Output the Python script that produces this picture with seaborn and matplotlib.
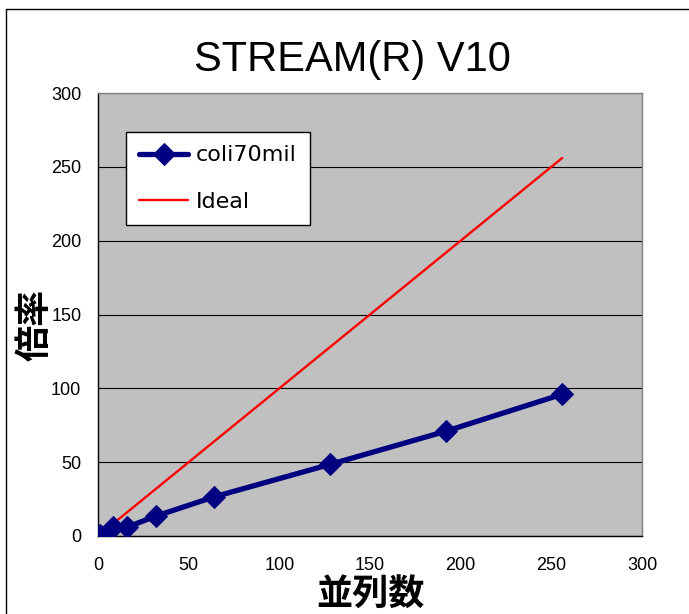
import numpy as np
import pandas as pd
import seaborn as sns
import matplotlib.pyplot as plt
from matplotlib.lines import Line2D

# data
threads = [1, 8, 16, 32, 64, 128, 192, 256]
speedup = [1, 6, 6, 13.5, 26.5, 48.5, 71, 96]
ideal = [1, 8, 16, 32, 64, 128, 192, 256]
ticks = [0, 50, 100, 150, 200, 250, 300]

df = pd.DataFrame({'x': threads, 'coli70mil': speedup, 'Ideal': ideal})

sns.set_theme(style='white')
plt.rcParams['font.family'] = ['Liberation Sans', 'DejaVu Sans']
for k in ['text.color', 'axes.labelcolor', 'xtick.color', 'ytick.color']:
    plt.rcParams[k] = 'black'

W, H = 689, 614
fig = plt.figure(figsize=(W / 100, H / 100), dpi=100)
ax = fig.add_axes([98 / W, 1 - 536 / H, 544 / W, 443 / H])
ax.set_facecolor('#C0C0C0')

sns.lineplot(data=df, x='x', y='Ideal', ax=ax, color='#FF0000', lw=1.7,
             label='Ideal', zorder=3)
sns.lineplot(data=df, x='x', y='coli70mil', ax=ax, color='#000080', lw=3.8,
             marker='D', markersize=11, markeredgecolor='#000080',
             label='coli70mil', zorder=4)

ax.set_xlim(0, 300)
ax.set_ylim(0, 300)
ax.set_xticks(ticks)
ax.set_yticks(ticks)
ax.yaxis.grid(True, color='black', lw=0.8)
ax.set_axisbelow(True)
ax.tick_params(axis='x', direction='in', length=5, width=1, color='black',
               labelcolor='black', labelsize=13, pad=15)
ax.tick_params(axis='y', direction='in', length=5, width=1, color='black',
               labelcolor='black', labelsize=13, pad=12)
for s in ['left', 'bottom']:
    ax.spines[s].set_color('black')
for s in ['top', 'right']:
    ax.spines[s].set_color('#808080')
for s in ax.spines.values():
    s.set_linewidth(1)
ax.set_xlabel('')
ax.set_ylabel('')

# legend in the upper left, matching order in the reference
h, l = ax.get_legend_handles_labels()
order = [l.index('coli70mil'), l.index('Ideal')]
leg = ax.legend([h[i] for i in order], [l[i] for i in order],
                loc='upper left', bbox_to_anchor=(126 / W, 1 - 132 / H),
                bbox_transform=fig.transFigure, frameon=True, fancybox=False,
                framealpha=1, edgecolor='black', facecolor='white',
                prop={'family': 'DejaVu Sans', 'size': 16},
                handlelength=2.2, handletextpad=0.35, labelspacing=1.2,
                borderpad=0.6, borderaxespad=0)
leg.get_frame().set_linewidth(1)
for t in leg.get_texts():
    t.set_color('black')

fig.text(352 / W, 1 - 60 / H, 'STREAM(R) V10', ha='center', va='center',
         fontsize=30, color='black')
fig.text(370 / W, 1 - 594 / H, '並列数', ha='center', va='center',
         fontsize=26, fontweight='bold', color='black',
         family=['Noto Sans CJK JP'])
fig.text(35 / W, 1 - 325 / H, '倍率', ha='center', va='center', rotation=90,
         fontsize=26, fontweight='bold', color='black',
         family=['Noto Sans CJK JP'])

# chart area border (left and top edges visible)
fig.add_artist(Line2D([6 / W, 6 / W], [0, 1 - 9 / H], transform=fig.transFigure,
                      color='black', lw=1))
fig.add_artist(Line2D([6 / W, 1], [1 - 9 / H, 1 - 9 / H],
                      transform=fig.transFigure, color='black', lw=1))

fig.savefig('out.png', dpi=100)
